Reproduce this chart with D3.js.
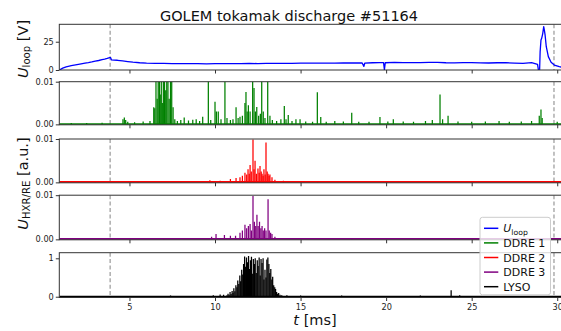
<!DOCTYPE html>
<html><head><meta charset="utf-8">
<script src="https://cdn.jsdelivr.net/npm/d3@7"></script>
<style>
body{margin:0;background:#fff}
svg{display:block;font-family:"DejaVu Sans",sans-serif}
</style>
</head><body>
<svg id="c" width="561" height="331"></svg>
<script>
// ---------------- DATA ----------------
const titleText = "GOLEM tokamak discharge #51164";
const xTicks = [5, 10, 15, 20, 25, 30];
const markerTimes = [3.87, 29.81];

// Loop voltage U_loop [V]
const uloopT = [0.9,1.0,1.1,1.3,1.6,1.85,2.1,2.4,2.6,2.8,3.0,3.2,3.4,3.55,3.7,3.85,3.9,3.95,4.1,4.3,4.6,4.9,5.2,5.6,6.0,6.5,7.0,7.5,8.0,8.5,9.0,9.5,10.0,10.5,11.0,11.5,12.0,12.5,13.0,13.5,14.0,14.5,15.0,15.5,16.0,16.5,17.0,17.5,18.0,18.6,18.7,18.75,19.2,19.6,19.85,19.9,19.95,20.5,21.0,21.5,22.0,22.5,23.0,23.5,24.0,24.5,25.0,25.5,26.0,26.5,27.0,27.5,28.0,28.5,28.85,28.9,28.97,29.0,29.05,29.09,29.15,29.21,29.25,29.29,29.36,29.48,29.64,29.83,30.12,30.5,31.0];
const uloopV = [0,0.8,1.6,2.7,3.8,4.5,5.2,6.0,6.5,7.1,7.8,8.4,9.2,9.7,10.3,11.0,10.9,8.9,8.7,8.6,8.0,7.4,6.9,6.4,6.1,5.9,5.8,5.7,5.6,5.7,5.6,5.5,5.7,5.6,5.6,5.7,5.8,5.7,5.9,5.8,5.8,5.9,6.0,6.1,6.1,6.0,6.0,6.2,6.3,6.2,3.2,6.0,6.4,6.5,6.5,0.3,6.4,6.8,6.6,6.5,6.5,6.7,6.7,6.4,6.3,6.5,6.5,6.3,6.2,6.4,6.4,6.1,5.9,6.5,5.0,0.2,0.3,16,26.5,28,32,38.3,35,31,20.6,11.8,6.8,4.4,2.9,2.0,1.5];

// DDRE 1 (green) spikes: time [ms], height [a.u.]
const ddre1T = [1.6,2.5,3.4,4.62,4.70,4.78,4.90,5.30,5.80,6.20,6.42,6.48,6.55,6.62,6.68,6.75,6.80,6.86,6.92,6.98,7.05,7.12,7.18,7.25,7.32,7.40,7.47,7.55,7.65,7.80,8.00,8.20,8.45,8.70,8.90,9.10,9.28,9.61,9.75,10.00,10.08,10.19,10.35,10.58,10.70,10.90,11.05,11.23,11.35,11.46,11.60,11.75,11.81,11.88,11.95,12.05,12.20,12.28,12.36,12.44,12.55,12.65,12.73,12.82,12.92,13.08,13.21,13.35,13.60,13.85,14.05,14.15,14.28,14.50,14.73,14.97,15.30,15.70,15.98,16.18,16.50,17.00,17.50,17.99,18.40,19.00,19.64,20.10,20.42,21.00,21.60,22.30,22.70,23.15,23.30,23.62,24.20,25.00,25.80,26.60,27.20,27.90,28.50,28.95,29.05,29.12,30.00];
const ddre1V = [0.0003,0.0003,0.0004,0.0012,0.0016,0.0010,0.0006,0.0005,0.0007,0.0008,0.0040,0.0038,0.0120,0.0060,0.0120,0.0120,0.0070,0.0120,0.0050,0.0120,0.0120,0.0080,0.0120,0.0120,0.0060,0.0120,0.0120,0.0040,0.0012,0.0008,0.0010,0.0016,0.0009,0.0011,0.0012,0.0008,0.0018,0.0120,0.0010,0.0053,0.0030,0.0030,0.0012,0.0120,0.0015,0.0010,0.0012,0.0040,0.0015,0.0018,0.0020,0.0050,0.0076,0.0030,0.0045,0.0030,0.0120,0.0085,0.0030,0.0041,0.0020,0.0025,0.0120,0.0030,0.0015,0.0120,0.0020,0.0010,0.0008,0.0012,0.0043,0.0012,0.0022,0.0008,0.0012,0.0012,0.0007,0.0006,0.0075,0.0017,0.0006,0.0008,0.0007,0.0027,0.0006,0.0006,0.0017,0.0007,0.0012,0.0007,0.0006,0.0008,0.0010,0.0070,0.0012,0.0020,0.0007,0.0006,0.0007,0.0008,0.0006,0.0007,0.0008,0.0020,0.0035,0.0015,0.0006];

// DDRE 2 (red) spikes
const ddre2T = [3.0,5.5,8.0,9.70,10.30,10.90,11.23,11.46,11.60,11.75,11.85,11.93,12.00,12.05,12.12,12.22,12.28,12.34,12.42,12.51,12.58,12.63,12.70,12.75,12.81,12.86,12.93,12.98,13.05,13.10,13.16,13.21,13.33,13.50,14.00,16.0,20.0,25.0];
const ddre2V = [0.0003,0.0003,0.0003,0.0005,0.0004,0.0008,0.0010,0.0012,0.0015,0.0022,0.0018,0.0030,0.0020,0.0040,0.0025,0.0099,0.0030,0.0050,0.0020,0.0032,0.0022,0.0038,0.0025,0.0020,0.0015,0.0030,0.0018,0.0092,0.0025,0.0020,0.0015,0.0018,0.0012,0.0006,0.0004,0.0003,0.0003,0.0003];

// DDRE 3 (purple) spikes
const ddre3T = [4.0,7.0,9.80,10.06,10.55,10.90,11.20,11.46,11.60,11.75,11.85,11.95,12.05,12.13,12.22,12.30,12.38,12.45,12.52,12.60,12.68,12.75,12.82,12.90,12.98,13.10,13.17,13.25,13.33,13.50,18.0,24.0];
const ddre3V = [0.0003,0.0003,0.0006,0.0012,0.0010,0.0008,0.0008,0.0015,0.0020,0.0033,0.0025,0.0030,0.0035,0.0020,0.0098,0.0040,0.0030,0.0056,0.0030,0.0040,0.0025,0.0030,0.0020,0.0025,0.0020,0.0091,0.0020,0.0015,0.0012,0.0006,0.0003,0.0003];

// LYSO (black) spikes
const lysoT = [4.70,6.00,7.40,8.20,9.90,10.30,10.50,10.70,10.76,10.82,10.88,10.94,11.00,11.05,11.10,11.16,11.22,11.28,11.33,11.39,11.45,11.50,11.56,11.62,11.67,11.73,11.79,11.84,11.90,11.96,12.01,12.07,12.13,12.18,12.24,12.30,12.35,12.41,12.47,12.52,12.58,12.64,12.69,12.75,12.81,12.86,12.92,12.98,13.03,13.09,13.15,13.20,13.26,13.32,13.37,13.43,13.49,13.54,13.60,13.66,13.72,13.80,13.90,14.20,15.00,17.40,18.90,20.50,22.00,23.80,24.30,26.30];
const lysoV = [0.02,0.02,0.03,0.02,0.04,0.06,0.05,0.04,0.08,0.05,0.12,0.07,0.15,0.10,0.22,0.14,0.30,0.25,0.42,0.33,0.55,0.40,0.70,0.58,0.85,1.05,0.78,1.02,0.90,1.06,0.72,0.95,1.04,0.60,0.98,0.85,1.00,0.62,0.95,0.80,1.02,0.55,0.98,0.88,1.00,0.45,0.70,0.50,0.97,1.02,0.85,0.62,0.72,0.45,0.52,0.30,0.25,0.20,0.12,0.08,0.10,0.05,0.04,0.04,0.03,0.03,0.02,0.02,0.03,0.17,0.04,0.02];

const legendLabels = ["U|loop", "DDRE 1", "DDRE 2", "DDRE 3", "LYSO"];
const seriesColors = ["#0000ff", "#008000", "#ff0000", "#800080", "#000000"];

// ---------------- LAYOUT ----------------
const svg = d3.select("#c");
svg.append("rect").attr("width", 561).attr("height", 331).attr("fill", "#fff");

const x = d3.scaleLinear().domain([0.9, 31.5]).range([59.3, 582.9]);

const panels = [
  {top: 24.3, bottom: 70.0, domain: [0, 40.4], ticks: [0, 25], fmt: d3.format("d")},
  {top: 81.7, bottom: 124.8, domain: [-0.0001, 0.01], ticks: [0, 0.01], fmt: d3.format(".2f")},
  {top: 139.0, bottom: 182.8, domain: [-0.0001, 0.01], ticks: [0, 0.01], fmt: d3.format(".2f")},
  {top: 195.2, bottom: 239.8, domain: [-0.0001, 0.01], ticks: [0, 0.01], fmt: d3.format(".2f")},
  {top: 252.7, bottom: 297.5, domain: [-0.02, 1.146], ticks: [0, 1], fmt: d3.format("d")}
];
const spikeSets = [null,
  {T: ddre1T, V: ddre1V, base: 2.0},
  {T: ddre2T, V: ddre2V, base: 2.6},
  {T: ddre3T, V: ddre3V, base: 2.8},
  {T: lysoT, V: lysoV, base: 1.8}];

const x0 = x.range()[0], x1 = x.range()[1];

panels.forEach((p, i) => {
  const y = d3.scaleLinear().domain(p.domain).range([p.bottom, p.top]);
  const g = svg.append("g");
  const cid = "clip" + i;
  svg.append("clipPath").attr("id", cid).append("rect")
    .attr("x", x0).attr("y", p.top).attr("width", x1 - x0).attr("height", p.bottom - p.top);
  const dg = g.append("g").attr("clip-path", `url(#${cid})`);

  // dashed markers
  dg.selectAll("line.mark").data(markerTimes).join("line")
    .attr("x1", d => x(d)).attr("x2", d => x(d))
    .attr("y1", p.top).attr("y2", p.bottom)
    .attr("stroke", "#8f8f8f").attr("stroke-width", 1.1).attr("stroke-dasharray", "4,2.4");

  if (i === 0) {
    const pts = uloopT.map((t, k) => [t, uloopV[k]]);
    dg.append("path").datum(pts)
      .attr("d", d3.line().x(d => x(d[0])).y(d => y(d[1])))
      .attr("fill", "none").attr("stroke", seriesColors[0]).attr("stroke-width", 1.3)
      .attr("stroke-linejoin", "round");
  } else {
    const s = spikeSets[i];
    const col = seriesColors[i];
    // baseline noise band
    dg.append("path").datum([[0.9, 0], [31.5, 0]])
      .attr("d", d3.line().x(d => x(d[0])).y(d => y(d[1])))
      .attr("stroke", col).attr("stroke-width", s.base);
    const sp = s.T.map((t, k) => [t, s.V[k]]);
    dg.selectAll("line.sp").data(sp).join("line")
      .attr("x1", d => x(d[0])).attr("x2", d => x(d[0]))
      .attr("y1", y(0)).attr("y2", d => y(d[1]))
      .attr("stroke", col).attr("stroke-width", 1.25);
  }

  // spines
  g.append("rect").attr("x", x0).attr("y", p.top).attr("width", x1 - x0).attr("height", p.bottom - p.top)
    .attr("fill", "none").attr("stroke", "#333").attr("stroke-width", 1);

  // y axis
  const ya = g.append("g").attr("transform", `translate(${x0},0)`)
    .call(d3.axisLeft(y).tickValues(p.ticks).tickFormat(p.fmt).tickSize(3.5).tickPadding(2));
  ya.select(".domain").remove();
  ya.selectAll("line").attr("stroke", "#333");
  ya.selectAll("text").attr("font-size", 8.2).attr("fill", "#222").attr("font-family", "DejaVu Sans");

  // x axis
  const xa = g.append("g").attr("transform", `translate(0,${p.bottom})`)
    .call(d3.axisBottom(x).tickValues(xTicks).tickSize(3.5).tickPadding(3));
  xa.select(".domain").remove();
  xa.selectAll("line").attr("stroke", "#333");
  if (i === panels.length - 1) {
    xa.selectAll("text").attr("font-size", 8.2).attr("fill", "#222").attr("font-family", "DejaVu Sans");
  } else {
    xa.selectAll("text").remove();
  }
});

// title
svg.append("text").attr("x", 289).attr("y", 20.6).attr("text-anchor", "middle")
  .attr("font-size", 14.5).attr("fill", "#111").text(titleText);

// math-like label helper
function mathLabel(sel, main, sub, rest, size) {
  sel.append("tspan").attr("font-style", "italic").text(main);
  sel.append("tspan").attr("font-size", size * 0.7).attr("dy", size * 0.2).text(sub);
  if (rest) sel.append("tspan").attr("dy", -size * 0.2).text(rest);
}

const yl1 = svg.append("text").attr("transform", "translate(27.5,49) rotate(-90)")
  .attr("text-anchor", "middle").attr("font-size", 14.5).attr("fill", "#111");
mathLabel(yl1, "U", "loop", "\u00a0[V]", 14.5);

const yl2 = svg.append("text").attr("transform", "translate(27.5,183.5) rotate(-90)")
  .attr("text-anchor", "middle").attr("font-size", 14.5).attr("fill", "#111");
mathLabel(yl2, "U", "HXR/RE", "\u00a0[a.u.]", 14.5);

// x label
const xl = svg.append("text").attr("x", 315).attr("y", 324.5).attr("text-anchor", "middle")
  .attr("font-size", 14.5).attr("fill", "#111");
xl.append("tspan").attr("font-style", "italic").text("t");
xl.append("tspan").text("\u00a0[ms]");

// legend
const lg = svg.append("g");
lg.append("rect").attr("x", 480).attr("y", 217.3).attr("width", 70.5).attr("height", 77.5)
  .attr("rx", 2.5).attr("fill", "#fff").attr("fill-opacity", 0.8)
  .attr("stroke", "#cccccc").attr("stroke-width", 1);
legendLabels.forEach((lab, k) => {
  const yy = 228.3 + k * 14.6;
  lg.append("line").attr("x1", 484).attr("x2", 498.3).attr("y1", yy).attr("y2", yy)
    .attr("stroke", seriesColors[k]).attr("stroke-width", 1.5);
  const t = lg.append("text").attr("x", 503.3).attr("y", yy + 4).attr("font-size", 11).attr("fill", "#111");
  if (lab.includes("|")) {
    const [a, b] = lab.split("|");
    mathLabel(t, a, b, null, 11);
  } else {
    t.text(lab);
  }
});
</script>
</body></html>
